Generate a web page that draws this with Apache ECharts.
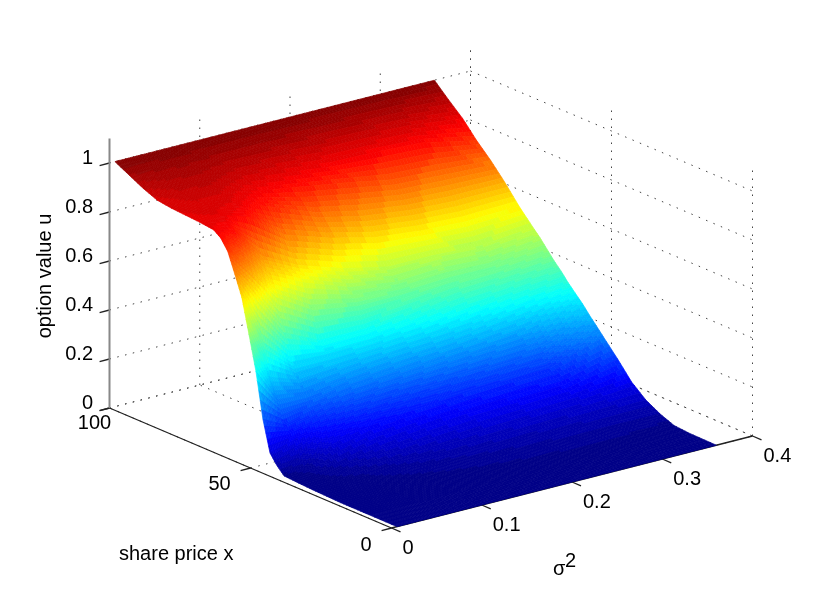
<!DOCTYPE html>
<html>
<head>
<meta charset="utf-8">
<style>html,body{margin:0;padding:0;background:#fff}#c{width:830px;height:596px}</style>
<script src="https://cdn.jsdelivr.net/npm/echarts@6/dist/echarts.min.js"></script>
</head>
<body>
<div id="c"></div>
<script>
// share price x (rows of the surface)
const priceX = [0,10,15,20,25,30,35,40,42.5,45,47.5,50,52.5,55,57.5,60,62.5,65,70,75,80,85,90,95,100];
// sigma^2 (columns of the surface)
const sigma2 = [0.006,0.03,0.06,0.1,0.15,0.2,0.25,0.3,0.36];
// option value u read along each sigma^2 column
const uS006 = [0,0,0,0,.002,.004,.007,.011,.04,.08,.205,.39,.53,.667,.75,.83,.872,.893,.9,.904,.908,.916,.94,.97,1];
const uS030 = [0,0,.001,.002,.004,.007,.012,.02,.05,.105,.16,.25,.33,.46,.62,.73,.8,.865,.905,.915,.925,.94,.955,.975,1];
const uS060 = [0,.001,.002,.004,.008,.015,.04,.09,.12,.15,.19,.24,.29,.35,.46,.59,.67,.735,.87,.905,.925,.945,.96,.98,1];
const uS100 = [0,.002,.005,.01,.02,.04,.075,.125,.15,.185,.22,.26,.3,.345,.39,.5,.6,.66,.76,.85,.89,.925,.95,.975,1];
const uS150 = [0,.003,.008,.018,.035,.06,.1,.145,.17,.2,.235,.275,.315,.35,.39,.47,.535,.6,.7,.78,.86,.91,.945,.975,1];
const uS200 = [0,.004,.012,.025,.045,.075,.115,.16,.185,.215,.25,.29,.33,.37,.415,.47,.51,.56,.655,.74,.83,.89,.935,.97,1];
const uS250 = [0,.005,.015,.03,.05,.082,.122,.17,.195,.23,.265,.31,.345,.4,.44,.48,.52,.56,.635,.715,.795,.885,.93,.965,1];
const uS300 = [0,.006,.016,.032,.055,.088,.13,.175,.205,.24,.28,.33,.38,.415,.45,.48,.51,.55,.625,.705,.785,.875,.92,.96,1];
const uS360 = [0,.002,.007,.03,.062,.11,.18,.245,.278,.31,.345,.375,.405,.44,.47,.505,.54,.57,.633,.705,.77,.827,.893,.945,1];
const uColumns = [uS006,uS030,uS060,uS100,uS150,uS200,uS250,uS300,uS360];

// axis ticks
const uTicks = [0,0.2,0.4,0.6,0.8,1];
const uTickLabels = ['0','0.2','0.4','0.6','0.8','1'];
const priceTicks = [0,50,100];
const sigmaTicks = [0,0.1,0.2,0.3,0.4];
const sigmaTickLabels = ['0','0.1','0.2','0.3','0.4'];
const sigmaMax = 0.4, priceMax = 100, uMax = 1.1;

// orthographic view of the box (screen units per data unit)
const view = {ox:391.5, oy:528, sx:361/0.4, sy:-92/0.4, px:-2.82, py:-1.2, uy:-245};
function project(s,x,u){
  return [view.ox+view.sx*s+view.px*x, view.oy+view.sy*s+view.py*x+view.uy*u];
}
function jet(u){
  const idx=Math.max(0,Math.min(63,Math.floor(u*64)));
  const t=(idx+0.5)/64;
  const c=v=>Math.round(255*Math.max(0,Math.min(1,1.5-Math.abs(4*t-v))));
  return 'rgb('+c(3)+','+c(2)+','+c(1)+')';
}

// grid lines (dotted): [s0,x0,u0,s1,x1,u1]
const gridSegs=[];
uTicks.forEach(u=>{
  gridSegs.push([0,priceMax,u,sigmaMax,priceMax,u]);
  gridSegs.push([sigmaMax,priceMax,u,sigmaMax,0,u]);
});
sigmaTicks.forEach(s=>{
  gridSegs.push([s,0,0,s,priceMax,0]);
  gridSegs.push([s,priceMax,0,s,priceMax,uMax]);
});
priceTicks.forEach(x=>{
  gridSegs.push([0,x,0,sigmaMax,x,0]);
  gridSegs.push([sigmaMax,x,0,sigmaMax,x,uMax]);
});
// solid axes
const axisSegs=[[0,priceMax,0,0,0,0],[0,0,0,sigmaMax,0,0],[0,priceMax,0,0,priceMax,uMax]];
uTicks.forEach(u=>axisSegs.push([0,priceMax,u,-0.011,priceMax,u]));
priceTicks.forEach(x=>axisSegs.push([0,x,0,-0.011,x,0]));
sigmaTicks.forEach(s=>axisSegs.push([s,0,0,s,-3.2,0]));

// surface cells, back to front
const cells=[];
for(let i=priceX.length-2;i>=0;i--){
  for(let j=0;j<sigma2.length-1;j++) cells.push([i,j]);
}
const SUBX=5,SUBS=14;
function surfaceCell(params,api){
  const i=api.value(0),j=api.value(1);
  const x0=priceX[i],x1=priceX[i+1],s0=sigma2[j],s1=sigma2[j+1];
  const a=uColumns[j][i],b=uColumns[j+1][i],c=uColumns[j][i+1],d=uColumns[j+1][i+1];
  const U=(p,q)=>(a*(1-q)+b*q)*(1-p)+(c*(1-q)+d*q)*p;
  const children=[];
  for(let m=SUBX-1;m>=0;m--){
    for(let n=0;n<SUBS;n++){
      const p0=m/SUBX,p1=(m+1)/SUBX,q0=n/SUBS,q1=(n+1)/SUBS;
      const P=(p,q)=>api.coord(project(s0+(s1-s0)*q,x0+(x1-x0)*p,U(p,q)));
      const col=jet(U((p0+p1)/2,(q0+q1)/2));
      children.push({type:'polygon',shape:{points:[P(p0,q0),P(p0,q1),P(p1,q1),P(p1,q0)]},
        style:{fill:col,stroke:col,lineWidth:0.7},silent:true});
    }
  }
  return {type:'group',children:children};
}
function segItem(style){
  return function(params,api){
    const a=api.coord(project(api.value(0),api.value(1),api.value(2)));
    const b=api.coord(project(api.value(3),api.value(4),api.value(5)));
    return {type:'line',shape:{x1:a[0],y1:a[1],x2:b[0],y2:b[1]},style:style,silent:true};
  };
}
const FONT='20px "Liberation Sans", Arial, sans-serif';
function labelText(text,x,y,align,api,rot){
  const p=api.coord([x,y]);
  return {type:'text',x:p[0],y:p[1],rotation:rot||0,silent:true,
    style:{text:text,fill:'#000',font:FONT,align:align,verticalAlign:'middle'}};
}
const labelItems=[];
uTicks.forEach((u,k)=>labelItems.push({kind:'u',k}));
priceTicks.forEach((x,k)=>labelItems.push({kind:'x',k}));
sigmaTicks.forEach((s,k)=>labelItems.push({kind:'s',k}));
const priceLabelOffset={0:[-25.5,17],50:[-31,16],100:[-15,15]};
function labelRender(params,api){
  const it=labelItems[params.dataIndex];
  if(it.kind==='u'){
    const p=project(0,priceMax,uTicks[it.k]);
    return labelText(uTickLabels[it.k],93,p[1]-4.5,'right',api);
  }
  if(it.kind==='x'){
    const v=priceTicks[it.k],p=project(0,v,0),o=priceLabelOffset[v];
    return labelText(String(v),p[0]+o[0],p[1]+o[1],'center',api);
  }
  const p=project(sigmaTicks[it.k],0,0);
  return labelText(sigmaTickLabels[it.k],p[0]+11,p[1]+20,'left',api);
}
const titles=[
  {text:'share price x',x:119,y:554,align:'left'},
  {text:'option value u',x:45,y:276,align:'center',rot:Math.PI/2},
  {text:'\u03c3',x:553,y:569,align:'left'},
  {text:'2',x:565,y:561,align:'left'}
];
function titleRender(params,api){
  const t=titles[params.dataIndex];
  return labelText(t.text,t.x,t.y,t.align,api,t.rot);
}

const chart=echarts.init(document.getElementById('c'),null,{renderer:'canvas'});
chart.setOption({
  animation:false,
  backgroundColor:'#fff',
  grid:{left:0,right:0,top:0,bottom:0},
  xAxis:{type:'value',min:0,max:830,show:false},
  yAxis:{type:'value',min:0,max:596,inverse:true,show:false},
  series:[
    {type:'custom',name:'grid',coordinateSystem:'cartesian2d',data:gridSegs,silent:true,
     renderItem:segItem({stroke:'#444',lineWidth:1,lineDash:[1.5,6.5]})},
    {type:'custom',name:'axes',coordinateSystem:'cartesian2d',data:axisSegs.slice(0,2).concat(axisSegs.slice(3)),silent:true,
     renderItem:segItem({stroke:'#222',lineWidth:1.3})},
    {type:'custom',name:'uAxis',coordinateSystem:'cartesian2d',data:[axisSegs[2]],silent:true,
     renderItem:segItem({stroke:'#888',lineWidth:2})},
    {type:'custom',name:'surface',coordinateSystem:'cartesian2d',data:cells,silent:true,renderItem:surfaceCell},
    {type:'custom',name:'tickLabels',coordinateSystem:'cartesian2d',data:labelItems.map((d,i)=>[i]),silent:true,renderItem:labelRender},
    {type:'custom',name:'titles',coordinateSystem:'cartesian2d',data:titles.map((d,i)=>[i]),silent:true,renderItem:titleRender}
  ]
});
</script>
</body>
</html>
